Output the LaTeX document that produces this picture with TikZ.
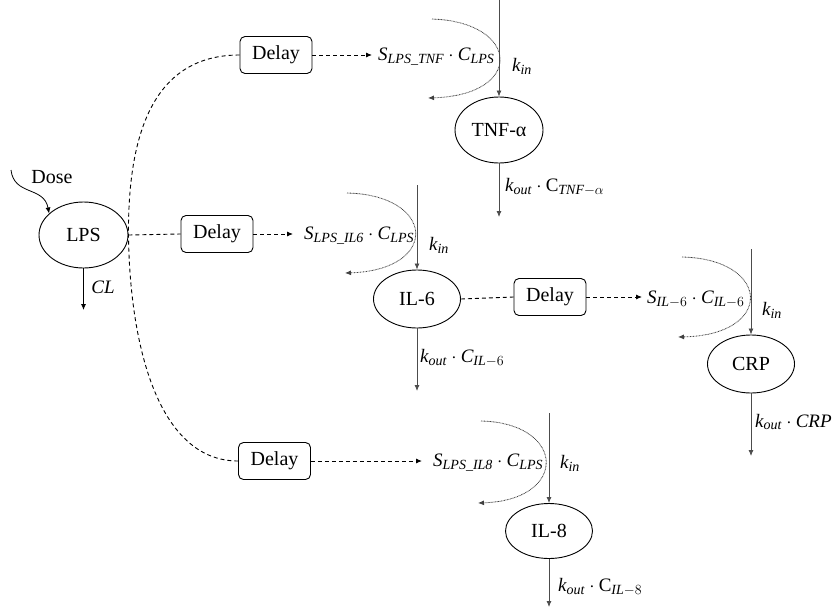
\documentclass[tikz,border=0pt]{standalone}
\usepackage{fix-cm}
\usepackage{amsmath}
\usepackage{fontspec}
\setmainfont{Liberation Serif}
\DeclareMathSizes{19}{19}{14}{10}
\usetikzlibrary{arrows.meta,shapes.geometric}
\newcommand{\mi}[1]{\mathit{#1}}
\tikzset{
  txt/.style={font=\fontsize{20}{24}\selectfont, inner sep=0pt},
  mth/.style={font=\fontsize{19}{22}\selectfont, inner sep=0pt},
  delaybox/.style={draw, line width=0.9pt, rounded corners=5pt, minimum width=72pt, minimum height=37pt, inner sep=0pt, font=\fontsize{20}{24}\selectfont},
  species/.style={draw, ellipse, line width=0.9pt, inner sep=0pt, minimum width=87pt, minimum height=58pt, font=\fontsize{20}{24}\selectfont},
  dsh/.style={line width=0.9pt, dash pattern=on 4pt off 3pt},
  tip/.style={-{Latex[length=6pt,width=5pt]}},
  dotc/.style={line width=0.8pt, dash pattern=on 0.8pt off 0.7pt, black!75},
  flow/.style={line width=0.8pt, black!70},
  thinln/.style={line width=0.8pt},
}
\begin{document}
\begin{tikzpicture}[x=1pt,y=-1pt]
\useasboundingbox (0,0) rectangle (835,608);

% species
\node[species, minimum width=89pt, minimum height=66pt] (lps) at (83.5,235) {LPS};
\node[species, minimum width=88pt, minimum height=66pt] (tnf) at (499,130) {TNF-α};
\node[species] (il6) at (417,299) {IL-6};
\node[species] (crp) at (751,364) {CRP};
\node[species, minimum height=55pt] (il8) at (549,531) {IL-8};

% delays
\node[delaybox] (d1) at (276,55) {Delay};
\node[delaybox] (d2) at (217,234) {Delay};
\node[delaybox] (d3) at (550,297) {Delay};
\node[delaybox] (d4) at (274.5,461) {Delay};

% stimulation labels
\node[mth, anchor=west] (s1) at (378,57) {$\mi{S}_{\mi{LPS\_TNF}}\cdot \mi{C}_{\mi{LPS}}$};
\node[mth, anchor=west] (s2) at (304,236) {$\mi{S}_{\mi{LPS\_IL6}}\cdot \mi{C}_{\mi{LPS}}$};
\node[mth, anchor=west] (s3) at (647,299) {$\mi{S}_{\mi{IL}-6}\cdot \mi{C}_{\mi{IL}-6}$};
\node[mth, anchor=west] (s4) at (433,463) {$\mi{S}_{\mi{LPS\_IL8}}\cdot \mi{C}_{\mi{LPS}}$};

% dose
\node[txt] (dose) at (52,177) {Dose};
\coordinate (dosein) at (11,170);
\draw[thinln, tip] (dosein) .. controls (14,196) and (44,186) .. (lps.148);

% CL elimination
\coordinate (lpsout) at (83.5,310);
\draw[thinln, tip] (lps) -- (lpsout);
\node[mth] (cl) at (103,287) {$\mi{CL}$};

% dashed delay links
\draw[dsh] (d1.west) .. controls (150,55) and (128,140) .. (lps.east)
           .. controls (130,350) and (160,461) .. (d4.west);
\draw[dsh] (lps.east) -- (d2.west);
\draw[dsh] (il6.east) -- (d3.west);
\draw[dsh, tip, shorten >=6pt] (d1.east) -- (d1.east -| s1.west);
\draw[dsh, tip, shorten >=11pt] (d2.east) -- (d2.east -| s2.west);
\draw[dsh, tip, shorten >=5pt] (d3.east) -- (d3.east -| s3.west);
\draw[dsh, tip, shorten >=11pt] (d4.east) -- (d4.east -| s4.west);

% production (k_in)
\coordinate (in1) at (499,0);
\coordinate (in2) at (417,185);
\coordinate (in3) at (751,249);
\coordinate (in4) at (549,413);
\draw[flow, tip] (in1) -- (tnf);
\draw[flow, tip] (in2) -- (il6);
\draw[flow, tip] (in3) -- (crp);
\draw[flow, tip] (in4) -- (il8);
\node[mth] (k1) at (522,66) {$\mi{k}_{\mi{in}}$};
\node[mth] (k2) at (439,245) {$\mi{k}_{\mi{in}}$};
\node[mth] (k3) at (772,310) {$\mi{k}_{\mi{in}}$};
\node[mth] (k4) at (570,463) {$\mi{k}_{\mi{in}}$};

% stimulation dotted curves
\coordinate (a1) at (432,19);  \coordinate (b1) at (428,98);
\coordinate (a2) at (347,193); \coordinate (b2) at (345,273);
\coordinate (a3) at (682,257); \coordinate (b3) at (678,337);
\coordinate (a4) at (481,421); \coordinate (b4) at (478,503);
\draw[dotc, tip] (a1) .. controls (520,22) and (525,95) .. (b1);
\draw[dotc, tip] (a2) .. controls (436,195) and (440,270) .. (b2);
\draw[dotc, tip] (a3) .. controls (771,259) and (775,335) .. (b3);
\draw[dotc, tip] (a4) .. controls (566,423) and (569,500) .. (b4);

% elimination (k_out)
\coordinate (o1) at (499,217);
\coordinate (o2) at (417,391);
\coordinate (o3) at (751,456);
\coordinate (o4) at (549,607);
\draw[flow, tip] (tnf) -- (o1);
\draw[flow, tip] (il6) -- (o2);
\draw[flow, tip] (crp) -- (o3);
\draw[flow, tip] (il8) -- (o4);
\node[mth, anchor=west] (e1) at (505,187) {$\mi{k}_{\mi{out}}\cdot \mathrm{C}_{\mi{TNF}-\alpha}$};
\node[mth, anchor=west] (e2) at (420,358) {$\mi{k}_{\mi{out}}\cdot \mi{C}_{\mi{IL}-6}$};
\node[mth, anchor=west] (e3) at (755,422) {$\mi{k}_{\mi{out}}\cdot \mi{CRP}$};
\node[mth, anchor=west] (e4) at (558,587) {$\mi{k}_{\mi{out}}\cdot \mathrm{C}_{\mi{IL}-8}$};
\end{tikzpicture}
\end{document}
